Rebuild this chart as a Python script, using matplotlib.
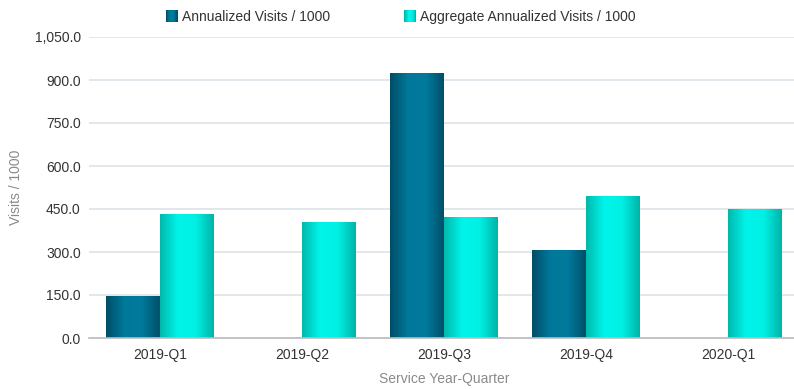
import numpy as np
import matplotlib.pyplot as plt
from matplotlib.colors import LinearSegmentedColormap
from matplotlib.patches import Rectangle
from matplotlib.legend_handler import HandlerBase

plt.rcParams['font.family'] = ['Liberation Sans', 'DejaVu Sans']

quarters = ['2019-Q1', '2019-Q2', '2019-Q3', '2019-Q4', '2020-Q1']
annualized = [144, 0, 924, 304, 0]
aggregate = [430, 402, 419, 492, 450]
yticks = [0, 150, 300, 450, 600, 750, 900, 1050]

dark_cmap = LinearSegmentedColormap.from_list(
    'dark', ['#004d66', '#00789a', '#007a9c', '#004f68'])
cyan_cmap = LinearSegmentedColormap.from_list(
    'cyan', ['#00b8ac', '#00f4ea', '#00f0e4', '#00b3a8'])


class GradientHandler(HandlerBase):
    def __init__(self, cmap, **kw):
        super().__init__(**kw)
        self.cmap = cmap

    def create_artists(self, legend, orig_handle, xdescent, ydescent,
                       width, height, fontsize, trans):
        n = 14
        side = height * 1.25
        x0 = -xdescent + width - side
        y0 = -ydescent + (height - side) / 2
        out = []
        for i in range(n):
            r = Rectangle((x0 + side * i / n, y0), side / n * 1.05, side,
                          facecolor=self.cmap(i / (n - 1)), edgecolor='none',
                          transform=trans)
            out.append(r)
        return out


def gradient_bars(ax, bars, cmap):
    grad = np.linspace(0, 1, 256).reshape(1, -1)
    for b in bars:
        h = b.get_height()
        if h <= 0:
            continue
        x = b.get_x()
        w = b.get_width()
        ax.imshow(grad, cmap=cmap, aspect='auto', interpolation='bicubic',
                  extent=(x, x + w, 0, h), zorder=3)
        b.set_visible(False)


fig = plt.figure(figsize=(7.94, 3.89), dpi=100)
ax = fig.add_axes([89 / 794, 51 / 389, 710 / 794, 301 / 389])

x = np.arange(len(quarters))
w = 0.38
b1 = ax.bar(x - w / 2, annualized, w, color='#006680', label='Annualized Visits / 1000')
b2 = ax.bar(x + w / 2, aggregate, w, color='#00e0d8', label='Aggregate Annualized Visits / 1000')
gradient_bars(ax, b1, dark_cmap)
gradient_bars(ax, b2, cyan_cmap)

ax.set_yticks(yticks)
ax.set_yticklabels([f'{v:,.1f}' for v in yticks])
ax.set_xticks(x)
ax.set_xticklabels(quarters)
ax.tick_params(axis='y', length=0, pad=6, labelsize=10, labelcolor='#333333')
ax.tick_params(axis='x', length=0, pad=7, labelsize=10, labelcolor='#333333')

ax.grid(axis='y', color='#dce3e8', linewidth=1.2, zorder=0)
ax.set_axisbelow(True)
for side in ['top', 'right', 'left']:
    ax.spines[side].set_visible(False)
ax.spines['bottom'].set_color('#b8bcc0')
ax.spines['bottom'].set_linewidth(1.2)
ax.spines['bottom'].set_zorder(4)

ax.set_ylabel('Visits / 1000', color='#8a8a8a', fontsize=10)
ax.yaxis.set_label_coords(-66 / 710, 0.5)
ax.set_xlabel('Service Year-Quarter', color='#8a8a8a', fontsize=10)
ax.xaxis.set_label_coords(355 / 710, -34 / 301)

ax.set_ylim(0, 1050)
ax.set_xlim(-0.5, 4.5)

leg = fig.legend(handles=[b1, b2],
                 handler_map={b1: GradientHandler(dark_cmap), b2: GradientHandler(cyan_cmap)},
                 loc='upper center', bbox_to_anchor=(400 / 794, 1.0), ncol=2,
                 frameon=False, fontsize=10, handlelength=1.0, handletextpad=0.3,
                 columnspacing=5.2, borderaxespad=0.3)
for t in leg.get_texts():
    t.set_color('#333333')

fig.savefig('out.png', dpi=100)
